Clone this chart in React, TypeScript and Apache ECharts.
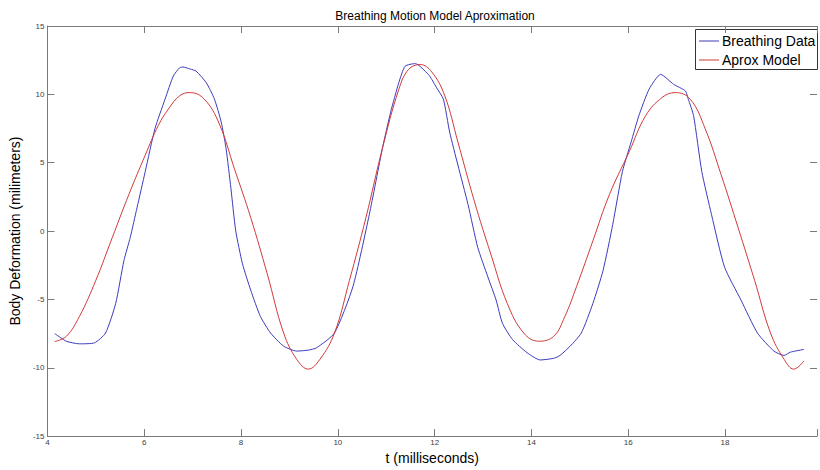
import React, { useEffect, useRef } from "react";
import * as echarts from "echarts";

const breathingT = [4.15, 4.39, 4.66, 4.97, 5.2, 5.41, 5.58, 5.71, 5.85, 6.02, 6.22, 6.43, 6.6, 6.73, 6.8, 6.95, 7.07, 7.28, 7.45, 7.59, 7.69, 7.79, 7.89, 8.03, 8.2, 8.4, 8.61, 8.88, 9.15, 9.39, 9.56, 9.93, 10.31, 10.65, 10.92, 11.09, 11.26, 11.39, 11.6, 11.87, 11.94, 12.04, 12.18, 12.31, 12.48, 12.69, 12.89, 13.1, 13.27, 13.4, 13.61, 13.91, 14.18, 14.46, 14.59, 14.8, 15.03, 15.27, 15.48, 15.68, 15.88, 16.06, 16.22, 16.43, 16.67, 16.94, 17.18, 17.24, 17.35, 17.52, 17.72, 17.99, 18.33, 18.67, 19.01, 19.22, 19.35, 19.63];
const breathingV = [-7.5, -8.06, -8.25, -8.18, -7.46, -5.29, -2.16, -0.47, 1.7, 4.35, 7.48, 9.65, 11.34, 11.94, 12.0, 11.85, 11.7, 10.86, 9.65, 7.97, 6.04, 3.14, 0.01, -2.4, -4.33, -6.25, -7.46, -8.42, -8.78, -8.71, -8.54, -7.46, -4.08, 1.21, 6.04, 8.69, 10.86, 12.06, 12.25, 11.46, 11.1, 10.49, 9.65, 7.24, 4.83, 1.94, -1.19, -3.36, -5.05, -6.74, -7.94, -8.9, -9.43, -9.31, -9.1, -8.42, -7.46, -5.29, -2.88, 0.49, 4.35, 6.52, 8.44, 10.37, 11.46, 10.73, 10.25, 9.65, 8.44, 4.35, 1.21, -2.64, -5.05, -7.46, -8.78, -9.1, -8.86, -8.66];

const modelT = [4.15, 4.39, 4.66, 5.0, 5.34, 5.68, 6.02, 6.29, 6.5, 6.73, 6.94, 7.24, 7.55, 7.86, 8.2, 8.54, 8.88, 9.15, 9.39, 9.63, 9.93, 10.24, 10.58, 10.92, 11.26, 11.46, 11.7, 11.94, 12.21, 12.48, 12.82, 13.16, 13.5, 13.84, 14.15, 14.46, 14.69, 14.93, 15.27, 15.61, 16.02, 16.36, 16.7, 16.97, 17.28, 17.59, 17.92, 18.27, 18.61, 18.94, 19.22, 19.42, 19.63];
const modelV = [-8.08, -7.7, -6.25, -3.6, -0.47, 2.66, 5.55, 7.72, 8.93, 9.89, 10.13, 9.65, 7.84, 4.59, 0.98, -3.12, -7.46, -9.38, -10.1, -9.38, -7.46, -3.6, 0.98, 6.04, 10.37, 11.82, 12.18, 11.64, 9.89, 6.52, 2.18, -1.68, -5.29, -7.46, -8.06, -7.7, -6.25, -4.08, -0.71, 2.66, 5.8, 8.44, 9.77, 10.13, 9.65, 7.48, 4.11, 0.25, -3.6, -7.46, -9.38, -10.1, -9.5];

const xTicks = [4, 6, 8, 10, 12, 14, 16, 18];
const yTicks = [-15, -10, -5, 0, 5, 10, 15];

const seriesNames = ["Breathing Data", "Aprox Model"];
const seriesColors = ["#3c3cbe", "#d03a3a"];

const FONT = "Liberation Sans, Arial, sans-serif";

export default function App() {
  const ref = useRef<HTMLDivElement>(null);
  useEffect(() => {
    document.body.style.margin = "0";
    if (!ref.current) return;
    const chart = echarts.init(ref.current, null, { renderer: "svg" });
    const axisColor = "#7a7a7a";
    const labelColor = "#404040";
    const commonX = {
      type: "value" as const,
      min: xTicks[0],
      max: 19.9,
      interval: 2,
      splitLine: { show: false },
      axisLine: { show: true, onZero: false, lineStyle: { color: axisColor, width: 1 } },
      axisTick: { show: true, inside: true, length: 7, lineStyle: { color: axisColor } },
    };
    const commonY = {
      type: "value" as const,
      min: yTicks[0],
      max: yTicks[yTicks.length - 1],
      interval: 5,
      splitLine: { show: false },
      axisLine: { show: true, onZero: false, lineStyle: { color: axisColor, width: 1 } },
      axisTick: { show: true, inside: true, length: 7, lineStyle: { color: axisColor } },
    };
    chart.setOption({
      animation: false,
      backgroundColor: "#fff",
      textStyle: { fontFamily: FONT },
      title: {
        text: "Breathing Motion Model Aproximation",
        left: 430,
        textAlign: "center",
        top: 5,
        textStyle: { fontSize: 12, fontWeight: "normal", color: "#000", fontFamily: FONT },
      },
      grid: { left: 41, top: 26, right: 0, height: 415 },
      xAxis: [
        {
          ...commonX,
          position: "bottom",
          name: "t (milliseconds)",
          nameLocation: "middle",
          nameGap: 11,
          nameTextStyle: { fontSize: 14, color: "#000", fontFamily: FONT, verticalAlign: "top" },
          axisLabel: {
            show: true,
            fontSize: 8,
            color: labelColor,
            margin: 2,
            formatter: (v: number) => (xTicks.includes(v) ? String(v) : ""),
          },
        },
        { ...commonX, position: "top", axisLabel: { show: false } },
      ],
      yAxis: [
        {
          ...commonY,
          position: "left",
          name: "Body Deformation (milimeters)",
          nameLocation: "middle",
          nameGap: 16,
          nameTextStyle: { fontSize: 14, color: "#000", fontFamily: FONT },
          axisLabel: {
            show: true,
            fontSize: 8,
            color: labelColor,
            margin: 3,
            formatter: (v: number) => (yTicks.includes(v) ? String(v) : ""),
          },
        },
        {
          ...commonY,
          position: "right",
          axisLine: { show: false },
          axisLabel: { show: false },
        },
      ],
      series: [
        {
          name: seriesNames[0],
          type: "line",
          data: breathingT.map((t, i) => [t, breathingV[i]]),
          showSymbol: false,
          symbol: "none",
          smooth: 0.2,
          lineStyle: { color: seriesColors[0], width: 1 },
          xAxisIndex: 0,
          yAxisIndex: 0,
        },
        {
          name: seriesNames[1],
          type: "line",
          data: modelT.map((t, i) => [t, modelV[i]]),
          showSymbol: false,
          symbol: "none",
          smooth: 0.4,
          lineStyle: { color: seriesColors[1], width: 1 },
          xAxisIndex: 0,
          yAxisIndex: 0,
        },
      ],
      graphic: [
        {
          type: "group",
          z: 100,
          children: [
            {
              type: "rect",
              shape: { x: 695.5, y: 29.5, width: 122, height: 40 },
              style: { fill: "#fff", stroke: "#333", lineWidth: 1 },
            },
            {
              type: "line",
              shape: { x1: 699, y1: 41, x2: 719, y2: 41 },
              style: { stroke: seriesColors[0], lineWidth: 1 },
            },
            {
              type: "line",
              shape: { x1: 699, y1: 60, x2: 719, y2: 60 },
              style: { stroke: seriesColors[1], lineWidth: 1 },
            },
            {
              type: "text",
              x: 722,
              y: 41,
              style: { text: seriesNames[0], fontSize: 14, fill: "#000", fontFamily: FONT, verticalAlign: "middle" },
            },
            {
              type: "text",
              x: 722,
              y: 60,
              style: { text: seriesNames[1], fontSize: 14, fill: "#000", fontFamily: FONT, verticalAlign: "middle" },
            },
          ],
        },
      ],
    });
    return () => chart.dispose();
  }, []);
  return <div ref={ref} style={{ width: 820, height: 470 }} />;
}
